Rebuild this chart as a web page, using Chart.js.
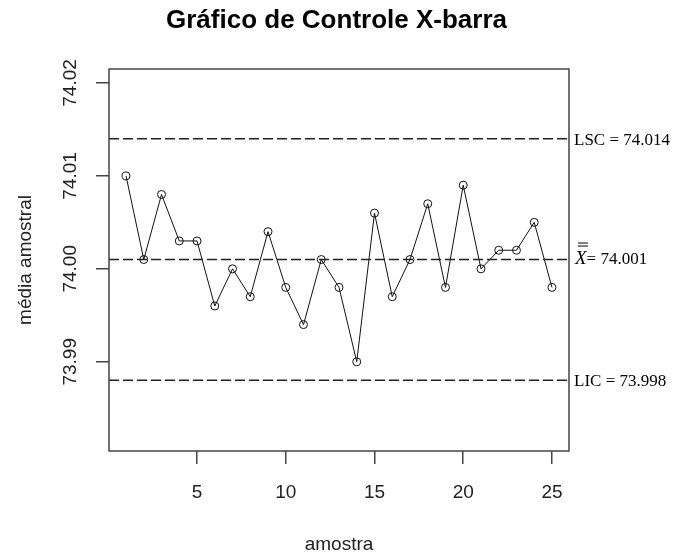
<!DOCTYPE html>
<html>
<head>
<meta charset="utf-8">
<script src="https://cdn.jsdelivr.net/npm/chart.js@4"></script>
<style>
  body { margin: 0; background: #fff; }
  canvas { display: block; }
</style>
</head>
<body>
<canvas id="chart" width="673" height="556"></canvas>
<script>
// amostras 1..25 e médias amostrais
const samples = [1, 2, 3, 4, 5, 6, 7, 8, 9, 10, 11, 12, 13, 14, 15, 16, 17, 18, 19, 20, 21, 22, 23, 24, 25];
const means = [74.010, 74.001, 74.008, 74.003, 74.003, 73.996, 74.000, 73.997, 74.004, 73.998,
               73.994, 74.001, 73.998, 73.990, 74.006, 73.997, 74.001, 74.007, 73.998, 74.009,
               74.000, 74.002, 74.002, 74.005, 73.998];

// linhas de controle (posição no gráfico) e os rótulos escritos ao lado
const limitValues = [74.014, 74.001, 73.988];
const limitNames = ["LSC", "XBAR", "LIC"];
const limitTexts = ["LSC = 74.014", "= 74.001", "LIC = 73.998"];

const xTicks = [5, 10, 15, 20, 25];
const yTicks = [73.99, 74.00, 74.01, 74.02];
const xRange = [0.04, 25.96];
const yRange = [73.9804, 74.0215];

const axisColor = "#444";

const limitDatasets = limitValues.map((v, i) => ({
    label: limitNames[i],
    data: [{ x: xRange[0], y: v }, { x: xRange[1], y: v }],
    showLine: true,
    borderColor: "#222",
    borderWidth: 1.5,
    borderDash: [10, 4],
    pointRadius: 0
}));

// moldura + rótulos à direita
const sidePlugin = {
    id: "side",
    afterDatasetsDraw(chart) {
        const { ctx, chartArea } = chart;
        const y = chart.scales.y;
        ctx.save();
        ctx.strokeStyle = axisColor;
        ctx.lineWidth = 1.5;
        ctx.strokeRect(chartArea.left, chartArea.top, chartArea.right - chartArea.left, chartArea.bottom - chartArea.top);

        ctx.fillStyle = "#000";
        ctx.textBaseline = "alphabetic";
        ctx.textAlign = "left";
        limitValues.forEach((v, i) => {
            const py = y.getPixelForValue(v);
            let px = chartArea.right + 5;
            let base = py + 6;
            if (limitNames[i] === "XBAR") {
                base = py + 4.5;
                px = chartArea.right + 6;
                ctx.font = 'italic 19px "Liberation Serif"';
                const w = ctx.measureText("X").width;
                ctx.fillText("X", px, base);
                ctx.strokeStyle = "#000";
                ctx.lineWidth = 1;
                ctx.beginPath();
                ctx.moveTo(px + 3, py - 16.5); ctx.lineTo(px + 13, py - 16.5);
                ctx.moveTo(px + 3, py - 13.5); ctx.lineTo(px + 13, py - 13.5);
                ctx.stroke();
                px += w;
            }
            ctx.font = '17px "Liberation Serif"';
            ctx.fillText(limitTexts[i], px, base);
        });
        ctx.restore();
    }
};

new Chart(document.getElementById("chart"), {
    type: "scatter",
    data: {
        datasets: [...limitDatasets, {
            label: "média amostral",
            data: samples.map((s, i) => ({ x: s, y: means[i] })),
            showLine: true,
            borderColor: "#111",
            borderWidth: 1,
            pointRadius: 4,
            pointBorderWidth: 1,
            pointBorderColor: "#111",
            pointBackgroundColor: "rgba(0,0,0,0)"
        }]
    },
    options: {
        responsive: false,
        animation: false,
        layout: { padding: 0 },
        plugins: {
            legend: { display: false },
            tooltip: { enabled: false },
            title: {
                display: true,
                text: "Gráfico de Controle X-barra",
                color: "#000",
                font: { family: "Liberation Sans", size: 26, weight: "bold", lineHeight: 1.2 },
                padding: { top: 5, bottom: 32.8 }
            }
        },
        scales: {
            x: {
                type: "linear",
                min: xRange[0],
                max: xRange[1],
                afterBuildTicks: s => { s.ticks = xTicks.map(v => ({ value: v })); },
                afterFit: s => { s.height = 105; },
                grid: { drawOnChartArea: false, tickLength: 13, color: axisColor, lineWidth: 1.5 },
                border: { display: false },
                ticks: {
                    color: "#222",
                    padding: 17.6,
                    autoSkip: false,
                    maxRotation: 0,
                    font: { family: "Liberation Sans", size: 19, lineHeight: 1.2 },
                    callback: v => String(v)
                },
                title: {
                    display: true,
                    text: "amostra",
                    color: "#222",
                    font: { family: "Liberation Sans", size: 19, lineHeight: 1.2 },
                    padding: { top: 0, bottom: 0 }
                }
            },
            y: {
                min: yRange[0],
                max: yRange[1],
                afterBuildTicks: s => { s.ticks = yTicks.map(v => ({ value: v })); },
                afterFit: s => { s.width = 109; },
                grid: { drawOnChartArea: false, tickLength: 13, color: axisColor, lineWidth: 1.5 },
                border: { display: false },
                ticks: {
                    color: "#222",
                    padding: 1.5,
                    autoSkip: false,
                    minRotation: 90,
                    maxRotation: 90,
                    crossAlign: "center",
                    font: { family: "Liberation Sans", size: 19, lineHeight: 1.2 },
                    callback: v => Number(v).toFixed(2)
                },
                title: {
                    display: true,
                    text: "média amostral",
                    color: "#222",
                    font: { family: "Liberation Sans", size: 19, lineHeight: 1.2 },
                    padding: { top: 14, bottom: 0 }
                }
            },
            // margem direita reservada para os rótulos das linhas de controle
            right: {
                type: "linear",
                position: "right",
                display: true,
                afterFit: s => { s.width = 104; },
                grid: { display: false },
                border: { display: false },
                ticks: { display: false }
            }
        }
    },
    plugins: [sidePlugin]
});
</script>
</body>
</html>
